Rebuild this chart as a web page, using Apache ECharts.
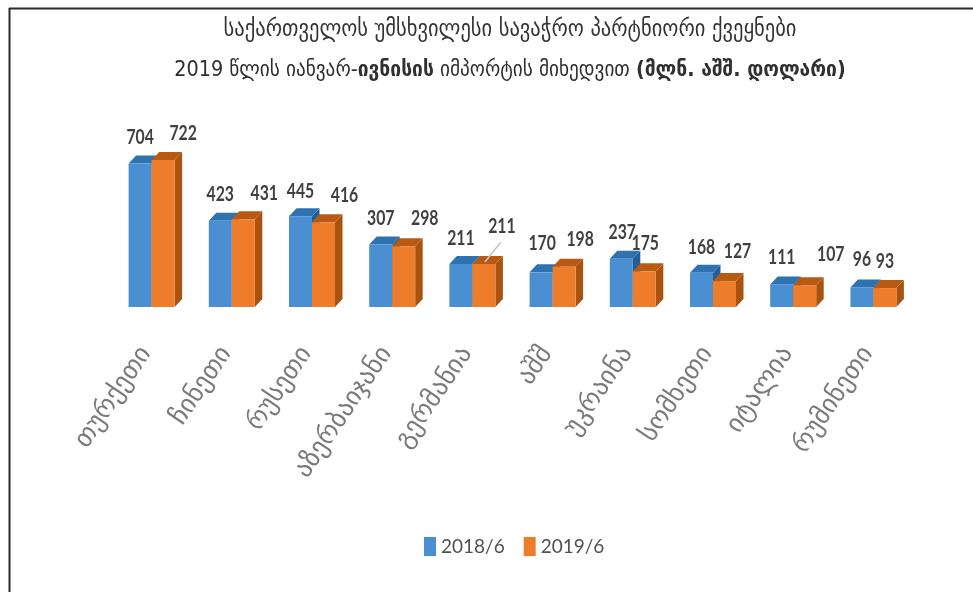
<!DOCTYPE html>
<html>
<head>
<meta charset="utf-8">
<style>
html,body{margin:0;padding:0;background:#fff;}
#c{width:973px;height:592px;filter:blur(0.45px);}
</style>
<script src="https://cdn.jsdelivr.net/npm/echarts@6/dist/echarts.min.js"></script>
</head>
<body>
<div id="c"></div>
<script>
const categories = ['თურქეთი','ჩინეთი','რუსეთი','აზერბაიჯანი','გერმანია','აშშ','უკრაინა','სომხეთი','იტალია','რუმინეთი'];
const seriesNames = ['2018/6','2019/6'];
const values2018 = [704,423,445,307,211,170,237,168,111,96];
const values2019 = [722,431,416,298,211,198,175,127,107,93];

// Layout nudges of the hand-placed value labels, separate from the data.
const nudge2018 = [[0,-1],[0,-2],[0,0],[0,-1],[0,-1],[1,-4],[1,-2],[0,-1],[0,-2],[0,-3]];
const nudge2019 = [[20,-2],[21,-1],[21,-2],[21,-3],[18,-13],[16,-3],[1,-3],[13,-5],[26,-6],[0,-2]];

const FONT = '"Lato",sans-serif';
const GEO = '"DejaVu Sans","Noto Sans",sans-serif';
const GEOC = '"DejaVu Sans Condensed","DejaVu Sans",sans-serif';
const BAR_W = 23, DX = 7.5, DY = 8, LABEL_UP = 25;

function barRenderer(sign, front, top, side, nudges, leaderIndex) {
  return function (params, api) {
    const i = api.value(0), v = api.value(1);
    const t = api.coord([i, v]), b = api.coord([i, 0]);
    const x0 = sign < 0 ? t[0] - BAR_W : t[0], x1 = x0 + BAR_W;
    const yT = t[1], yB = b[1];
    const n = nudges[i];
    const lx = (x0 + x1) / 2 + n[0], ly = yT - LABEL_UP + n[1];
    const kids = [
      {type:'polygon', shape:{points:[[x1,yT],[x1+DX,yT-DY],[x1+DX,yB-DY],[x1,yB]]}, style:{fill:side}},
      {type:'polygon', shape:{points:[[x0,yT],[x0+DX,yT-DY],[x1+DX,yT-DY],[x1,yT]]}, style:{fill:top}},
      {type:'rect', shape:{x:x0,y:yT,width:BAR_W,height:yB-yT}, style:{fill:front}},
      {type:'text', z2:50, x:lx, y:ly, scaleX:0.83, scaleY:1.12,
       style:{x:0,y:0,text:String(v),fill:'#404040',align:'center',verticalAlign:'middle',font:'bold 19px '+FONT}}
    ];
    if (i === leaderIndex) {
      kids.push({type:'line', shape:{x1:lx-1,y1:ly+16,x2:(x0+x1)/2+1,y2:yT-2}, style:{stroke:'#c4c4c4',lineWidth:1.5}});
    }
    return {type:'group', children:kids};
  };
}

const chart = echarts.init(document.getElementById('c'), null, {renderer:'canvas'});
chart.setOption({
  animation:false,
  backgroundColor:'#ffffff',
  title:{
    left:505, top:5, textAlign:'center',
    text:'{a|საქართველოს უმსხვილესი სავაჭრო პარტნიორი ქვეყნები}\n{b|2019 წლის იანვარ-}{c|ივნისის}{b| იმპორტის მიხედვით }{c|(მლნ. აშშ. დოლარი)}',
    textStyle:{
      fontWeight:'normal',
      rich:{
        a:{fontFamily:GEOC,fontSize:22.8,fontWeight:'normal',color:'#333333',lineHeight:40,align:'center'},
        b:{fontFamily:GEOC,fontSize:21.4,fontWeight:'normal',color:'#2e2e2e',lineHeight:40},
        c:{fontFamily:GEOC,fontSize:21.4,fontWeight:'bold',color:'#303030',lineHeight:40}
      }
    }
  },
  legend:{
    left:424, top:537, padding:0, itemWidth:12, itemHeight:19, itemGap:19, icon:'rect',
    data:seriesNames,
    textStyle:{fontFamily:FONT,fontSize:19,color:'#505050'},
    selectedMode:false
  },
  grid:{left:111.5,width:802,top:144,height:163,containLabel:false},
  xAxis:{
    type:'category', data:categories,
    axisLine:{show:false}, axisTick:{show:false},
    axisLabel:{rotate:56,margin:34,padding:[0,10,0,0],interval:0,fontFamily:GEO,fontSize:26,color:'#7a7a7a'}
  },
  yAxis:{type:'value',min:0,max:800,show:false,splitLine:{show:false}},
  series:[
    {name:seriesNames[0],type:'custom',itemStyle:{color:'#4A8FD2'},encode:{x:0,y:1},clip:false,
     data:values2018.map((v,i)=>[i,v]),
     renderItem:barRenderer(-1,'#4A8FD2','#2E72B0','#235E96',nudge2018,-1)},
    {name:seriesNames[1],type:'custom',itemStyle:{color:'#ED7D2B'},encode:{x:0,y:1},clip:false,
     data:values2019.map((v,i)=>[i,v]),
     renderItem:barRenderer(1,'#ED7D2B','#B95A14','#A9530F',nudge2019,4)}
  ],
  graphic:[
    {type:'line',silent:true,shape:{x1:9,y1:8.5,x2:973,y2:8.5},style:{stroke:'#2a2a2a',lineWidth:2}},
    {type:'line',silent:true,shape:{x1:9.5,y1:8,x2:9.5,y2:592},style:{stroke:'#2a2a2a',lineWidth:2}}
  ]
});
</script>
</body>
</html>
